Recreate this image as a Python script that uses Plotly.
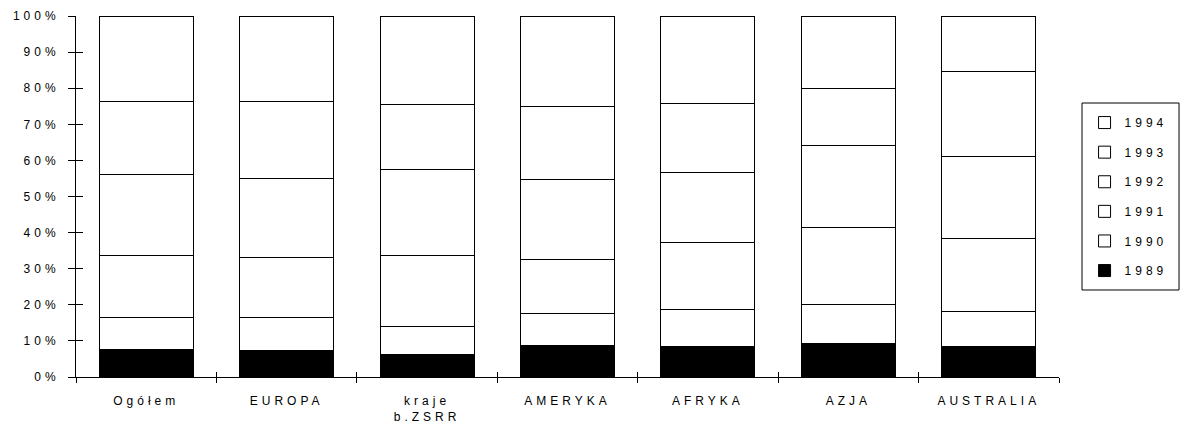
import plotly.graph_objects as go

categories = ["Ogółem", "EUROPA", "kraje<br>b.ZSRR", "AMERYKA", "AFRYKA", "AZJA", "AUSTRALIA"]
years = ["1989", "1990", "1991", "1992", "1993", "1994"]

s1989 = [7.7, 7.4, 6.2, 8.7, 8.5, 9.3, 8.5]
s1990 = [8.8, 9.1, 7.8, 8.8, 10.2, 10.9, 9.6]
s1991 = [17.2, 16.5, 19.6, 15.1, 18.6, 21.1, 20.2]
s1992 = [22.4, 21.9, 23.8, 22.1, 19.4, 22.9, 22.8]
s1993 = [20.2, 21.3, 18.2, 20.2, 19.1, 15.8, 23.6]
s1994 = [23.7, 23.8, 24.4, 25.1, 24.2, 20.0, 15.3]

series = [s1989, s1990, s1991, s1992, s1993, s1994]
fills = ["#000000", "#ffffff", "#ffffff", "#ffffff", "#ffffff", "#ffffff"]

yticks = [0, 10, 20, 30, 40, 50, 60, 70, 80, 90, 100]
ylabels = [f"{v}%" for v in yticks]

FONT = dict(family="Liberation Sans, Arial, sans-serif", size=12, color="#000000")

fig = go.Figure()
for i, (name, vals, col) in enumerate(zip(years, series, fills)):
    fig.add_trace(go.Bar(
        x=categories, y=vals, name=name, legendgroup=name,
        legendrank=100 - i,
        marker=dict(color=col, line=dict(color="#000000", width=1)),
        hoverinfo="skip",
    ))

# helper trace for the inner half of the crossing tick marks
fig.add_trace(go.Scatter(x=categories, y=[None] * len(categories), xaxis="x2", yaxis="y2",
                         showlegend=False, hoverinfo="skip", mode="lines"))

fig.update_layout(
    width=1181, height=423,
    margin=dict(l=76, r=122, t=16, b=46, autoexpand=False),
    paper_bgcolor="#ffffff", plot_bgcolor="#ffffff",
    barmode="stack", bargap=0.33,
    font=FONT,
    showlegend=True,
    legend=dict(x=1.026, y=0.745, xanchor="left", yanchor="top",
                traceorder="grouped", tracegroupgap=10.6,
                borderwidth=0, bgcolor="rgba(0,0,0,0)", font=FONT),
    xaxis=dict(type="category", categoryorder="array", categoryarray=categories,
               range=[-0.5, len(categories) - 0.5], automargin=False,
               showline=True, linecolor="#000000", linewidth=1,
               ticks="outside", tickson="boundaries", ticklen=5, tickcolor="#000000",
               showgrid=False, zeroline=False, ticklabelstandoff=13),
    yaxis=dict(range=[0, 100], tickmode="array", tickvals=yticks, ticktext=ylabels,
               automargin=False,
               showline=True, linecolor="#000000", linewidth=1,
               ticks="outside", ticklen=7, tickcolor="#000000",
               showgrid=False, zeroline=False, ticklabelstandoff=6),
    xaxis2=dict(type="category", categoryorder="array", categoryarray=categories,
                range=[-0.5, len(categories) - 0.5], overlaying="x", side="bottom",
                anchor="y2", ticks="inside", tickson="boundaries", ticklen=5,
                tickcolor="#000000", showticklabels=False, showgrid=False,
                zeroline=False, showline=False, automargin=False),
    yaxis2=dict(range=[0, 100], tickmode="array", tickvals=yticks, overlaying="y",
                side="left", anchor="x2", ticks="inside", ticklen=7, tickcolor="#000000",
                showticklabels=False, showgrid=False, zeroline=False, showline=False,
                automargin=False),
    shapes=[dict(type="rect", xref="paper", yref="paper",
                 x0=1.0234, x1=1.1221, y0=0.241, y1=0.759,
                 line=dict(color="#000000", width=1), fillcolor="rgba(0,0,0,0)")],
)

post = """
document.body.style.margin = '0';
var gd = document.getElementById('{plot_id}');
function ls(){
  gd.querySelectorAll('.xtick text, .ytick text, .legendtext').forEach(function(t){
    t.style.letterSpacing = '4px';
  });
  gd.querySelectorAll('.legend [clip-path]').forEach(function(e){
    e.removeAttribute('clip-path');
  });
}
ls();
gd.on('plotly_afterplot', ls);
"""

fig.write_html("out.html", config={"displayModeBar": False}, post_script=post)
